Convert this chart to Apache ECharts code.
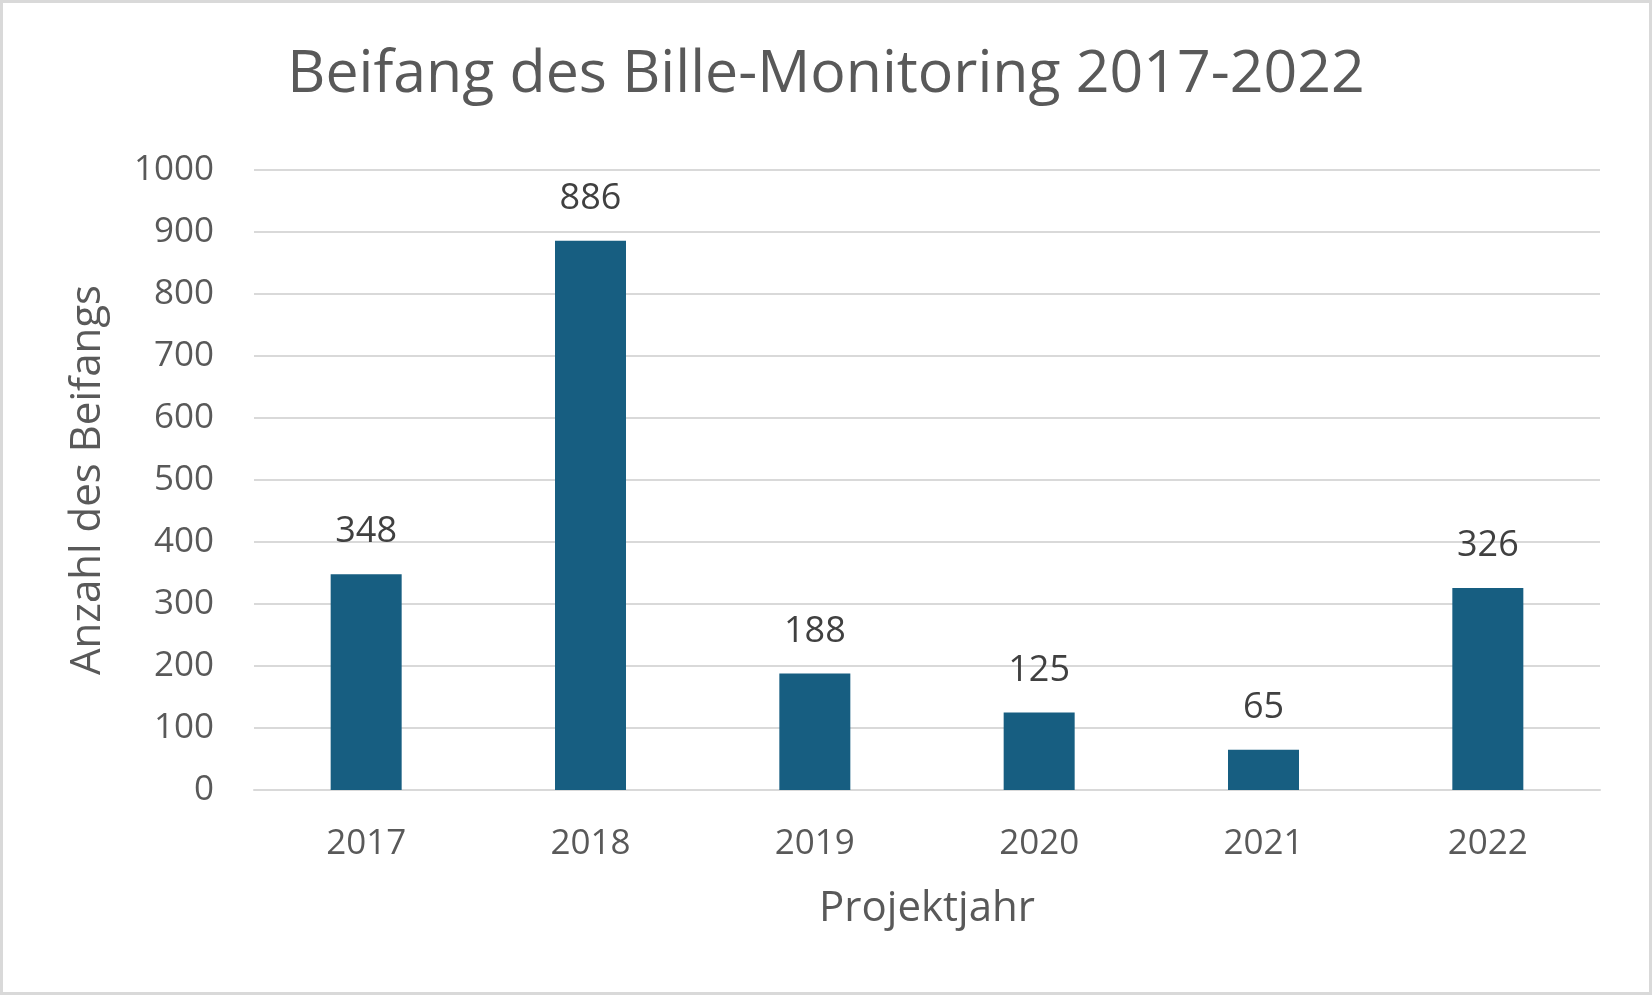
<!DOCTYPE html>
<html><head><meta charset="utf-8">
<script src="https://cdn.jsdelivr.net/npm/echarts@6/dist/echarts.min.js"></script>
<style>html,body{margin:0;padding:0;background:#fff}#c{width:1652px;height:995px;box-sizing:border-box;border:3px solid #d9d9d9}</style>
</head><body><div id="c"></div>
<script>
const categories = ['2017','2018','2019','2020','2021','2022'];
const values = [348, 886, 188, 125, 65, 326];
const titleText = 'Beifang des Bille-Monitoring 2017-2022';
const xName = 'Projektjahr';
const yName = 'Anzahl des Beifangs';
const FONT = 'Open Sans';
const chart = echarts.init(document.getElementById('c'));
chart.setOption({
  animation: false,
  title: { text: titleText, left: 'center', top: 38, textStyle: { fontFamily: FONT, fontSize: 59, fontWeight: 'normal', color: '#595959' } },
  grid: { left: 251, right: 49, top: 167, bottom: 202, containLabel: false },
  xAxis: {
    type: 'category', data: categories,
    name: xName, nameLocation: 'middle', nameGap: 98,
    nameTextStyle: { fontFamily: FONT, fontSize: 42, color: '#595959' },
    axisLine: { lineStyle: { color: '#d9d9d9', width: 2 } },
    axisTick: { show: false },
    axisLabel: { fontFamily: FONT, fontSize: 35, color: '#595959', margin: 37 }
  },
  yAxis: {
    type: 'value', min: 0, max: 1000, interval: 100,
    name: yName, nameLocation: 'middle', nameGap: 145, nameRotate: 90,
    nameTextStyle: { fontFamily: FONT, fontSize: 42, color: '#595959' },
    axisLine: { show: false }, axisTick: { show: false },
    axisLabel: { fontFamily: FONT, fontSize: 35, color: '#595959', margin: 40, formatter: v => String(v) },
    splitLine: { lineStyle: { color: '#d9d9d9', width: 2 } }
  },
  series: [{
    type: 'bar', data: values, barWidth: 71,
    itemStyle: { color: '#175E81' },
    label: { show: true, position: 'top', distance: 24, fontFamily: FONT, fontSize: 36, color: '#404040' }
  }]
});
</script></body></html>
